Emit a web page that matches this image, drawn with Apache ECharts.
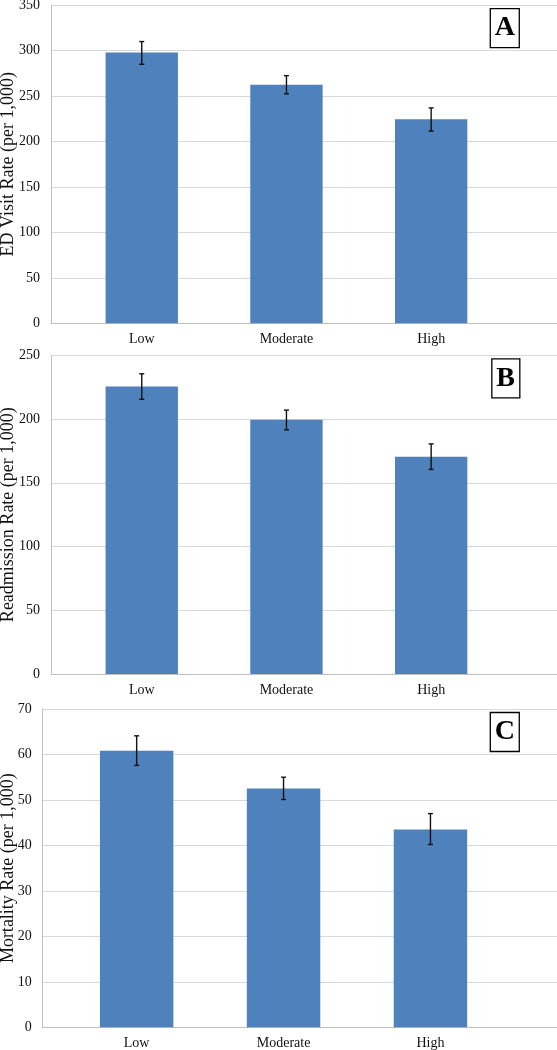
<!DOCTYPE html>
<html>
<head>
<meta charset="utf-8">
<script src="https://cdn.jsdelivr.net/npm/echarts@6/dist/echarts.min.js"></script>
<style>
html,body{margin:0;padding:0;background:#fff;}
#c{width:557px;height:1050px;}
</style>
</head>
<body>
<div id="c"></div>
<script>
const categories = ['Low', 'Moderate', 'High'];

const edValues = [298, 262.5, 224.5];
const edLow = [285, 252.5, 211.5];
const edHigh = [310, 272.5, 237];

const readValues = [225.5, 199.5, 170.5];
const readLow = [215.5, 191.5, 160.5];
const readHigh = [235.5, 207, 180.5];

const mortValues = [60.8, 52.5, 43.5];
const mortLow = [57.6, 50.1, 40.2];
const mortHigh = [64.1, 55.0, 47.0];

const panelLetters = ['A', 'B', 'C'];
const yTitles = ['ED Visit Rate (per 1,000)', 'Readmission Rate (per 1,000)', 'Mortality Rate (per 1,000)'];
const yMax = [350, 250, 70];
const yStep = [50, 50, 10];

const FONT = '"Liberation Serif", "Times New Roman", serif';
const BLUE = '#4F81BD';

const panels = [
  {vals: edValues, lo: edLow, hi: edHigh, wide: {left: 51, top: 5.2, height: 318.1}, narrow: {left: 69.4, width: 434.1}, gap: 33.5},
  {vals: readValues, lo: readLow, hi: readHigh, wide: {left: 51, top: 355.3, height: 318.7}, narrow: {left: 69.4, width: 434.1}, gap: 33.5},
  {vals: mortValues, lo: mortLow, hi: mortHigh, wide: {left: 42.7, top: 709, height: 318.3}, narrow: {left: 63.2, width: 440.7}, gap: 25.5}
];

const grid = [], xAxis = [], yAxis = [], series = [], title = [];

function errRender(params, api) {
  const x = api.value(0), lo = api.value(1), hi = api.value(2);
  const p1 = api.coord([x, hi]);
  const p2 = api.coord([x, lo]);
  const cap = 2.5;
  const st = {stroke: '#111', lineWidth: 1.4};
  return {
    type: 'group',
    children: [
      {type: 'line', shape: {x1: p1[0], y1: p1[1], x2: p2[0], y2: p2[1]}, style: st},
      {type: 'line', shape: {x1: p1[0] - cap, y1: p1[1], x2: p1[0] + cap, y2: p1[1]}, style: st},
      {type: 'line', shape: {x1: p2[0] - cap, y1: p2[1], x2: p2[0] + cap, y2: p2[1]}, style: st}
    ]
  };
}

panels.forEach((p, i) => {
  grid.push({left: p.wide.left, top: p.wide.top, height: p.wide.height, right: -2, outerBoundsMode: 'none', containLabel: false});
  grid.push({left: p.narrow.left, top: p.wide.top, height: p.wide.height, width: p.narrow.width, outerBoundsMode: 'none', containLabel: false});
  const gw = 2 * i, gn = 2 * i + 1;
  xAxis.push({
    gridIndex: gw, type: 'value', min: 0, max: 1,
    axisLine: {show: true, onZero: false, lineStyle: {color: '#bfbfbf', width: 1}},
    axisTick: {show: false}, axisLabel: {show: false}, splitLine: {show: false}
  });
  xAxis.push({
    gridIndex: gn, type: 'category', data: categories,
    axisLine: {show: false}, axisTick: {show: false},
    axisLabel: {color: '#111', fontFamily: FONT, fontSize: 14, margin: 9}
  });
  yAxis.push({
    gridIndex: gw, type: 'value', min: 0, max: yMax[i], interval: yStep[i],
    axisLine: {show: true, lineStyle: {color: '#bfbfbf', width: 1}},
    axisTick: {show: false},
    splitLine: {show: true, lineStyle: {color: '#d9d9d9', width: 1}},
    axisLabel: {color: '#111', fontFamily: FONT, fontSize: 14, margin: 11},
    name: yTitles[i], nameLocation: 'middle', nameGap: p.gap, nameMoveOverlap: false,
    nameTextStyle: {color: '#111', fontFamily: FONT, fontSize: 18}
  });
  yAxis.push({
    gridIndex: gn, type: 'value', min: 0, max: yMax[i], interval: yStep[i],
    show: false
  });
  series.push({
    type: 'bar', xAxisIndex: gn, yAxisIndex: gn, data: p.vals,
    barWidth: '50%', itemStyle: {color: BLUE}, z: 2
  });
  series.push({
    type: 'custom', xAxisIndex: gn, yAxisIndex: gn,
    data: categories.map((c, k) => [k, p.lo[k], p.hi[k]]),
    renderItem: errRender, z: 5
  });
  title.push({
    text: panelLetters[i], right: 37, top: p.wide.top + 3,
    borderColor: '#000', borderWidth: 1.3, padding: [6, 5, 6, 5],
    textStyle: {fontFamily: FONT, fontWeight: 'bold', fontSize: 28, color: '#000', lineHeight: 28}
  });
});

const chart = echarts.init(document.getElementById('c'), null, {renderer: 'canvas'});
chart.setOption({
  animation: false,
  backgroundColor: '#fff',
  title, grid, xAxis, yAxis, series
});
</script>
</body>
</html>
